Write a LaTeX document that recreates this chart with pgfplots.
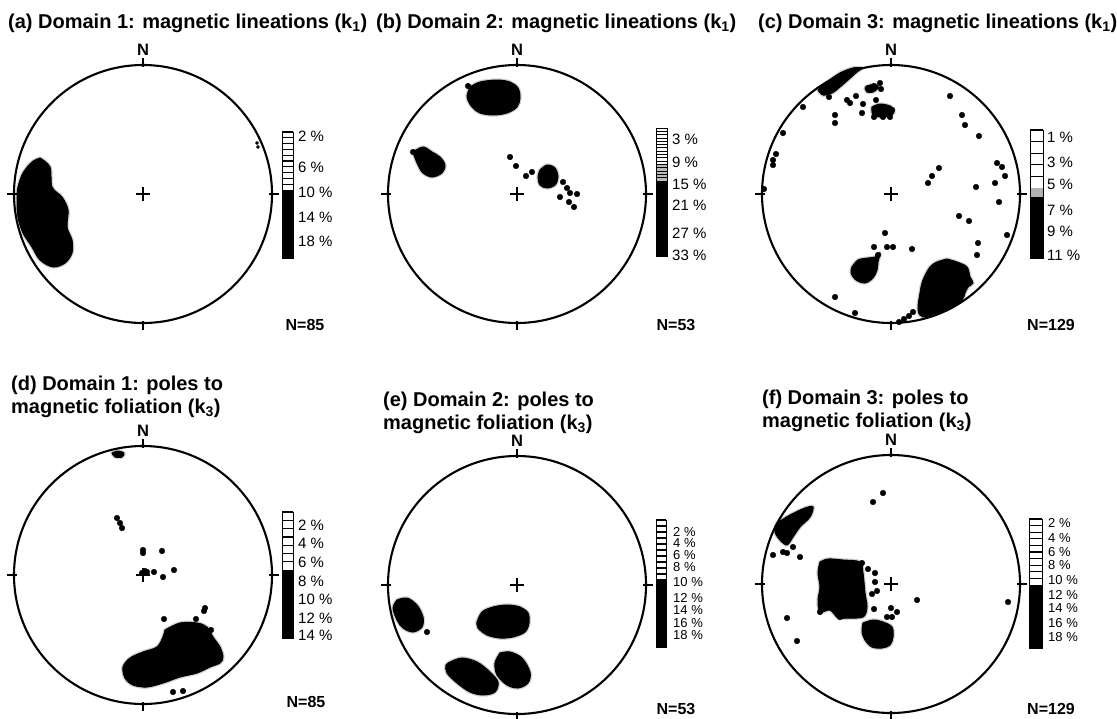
\documentclass[border=0pt]{standalone}
\usepackage{fontspec}
\setmainfont{Liberation Sans}
\usepackage{pgfplots}
\pgfplotsset{compat=1.18}
\newcommand\tfont{\bfseries\fontsize{20}{23}\selectfont}
\newcommand\nfont{\bfseries\fontsize{16}{16}\selectfont}
\newcommand\lfont{\fontsize{15}{15}\selectfont}
\newcommand\sfont{\fontsize{13}{13}\selectfont}
\newcommand\netframe[2]{%
  \draw[line width=2.1pt] (#1,#2) circle[radius=129pt];
  \draw[line width=1.8pt] (#1,#2-129-7) -- (#1,#2-129+2);
  \draw[line width=1.8pt] (#1,#2+129-2) -- (#1,#2+129+7);
  \draw[line width=1.8pt] (#1-129-7,#2) -- (#1-129+3,#2);
  \draw[line width=1.8pt] (#1+129-3,#2) -- (#1+129+7,#2);
  \draw[line width=2.3pt] (#1-7,#2) -- (#1+7,#2) (#1,#2-7) -- (#1,#2+7);
  \node[font=\bfseries\fontsize{16.5}{16.5}\selectfont] at (#1,#2-129-15) {N};
}
\pgfplotsset{
  stereo/.style={scale only axis, width=258pt, height=258pt, axis lines=none,
    ticks=none, clip=false, y dir=reverse, anchor=center},
  blob/.style={fill=black, draw=black, line width=1pt, line join=round, smooth, tension=0.55,
    preaction={draw=gray!35, line width=3.5pt}},
  dots/.style={only marks, mark=*, mark size=2.8pt, black, mark options={fill=black}},
}
\begin{document}
\begin{tikzpicture}
\path[use as bounding box] (0,0) rectangle (1117pt,-718pt);

% (a)
\begin{axis}[stereo, at={(143pt,-194pt)}, xmin=14, xmax=272, ymin=65, ymax=323]
\addplot[blob] coordinates {(40,158) (50,167) (52,187) (62,197) (68,210) (67,227) (72,240) (72,253) (65,263) (53,267) (40,260) (32,247) (23,233) (18,217) (17,200) (18,187) (23,173) (32,162) (40,158)} -- cycle;
\addplot[dots, mark size=1.6pt] coordinates {(257,143) (258,147)};
\end{axis}

% (b)
\begin{axis}[stereo, at={(517pt,-194pt)}, xmin=388, xmax=646, ymin=65, ymax=323]
\addplot[blob] coordinates {(470,87) (480,82) (497,80) (510,82) (518,88) (520,98) (517,107) (507,113) (493,115) (480,113) (472,107) (467,97) (470,87)} -- cycle;
\addplot[blob] coordinates {(413,152) (423,147) (432,152) (440,157) (445,165) (442,173) (432,177) (423,173) (418,165) (415,158) (413,152)} -- cycle;
\addplot[blob] coordinates {(540,170) (547,165) (555,168) (558,177) (555,185) (547,188) (540,185) (538,177) (540,170)} -- cycle;
\addplot[dots] coordinates {(468,86) (413,152) (510,157) (516,166) (526,176) (532,172) (563,182) (567,188) (570,193) (577,194) (560,197) (569,202) (574,207)};
\end{axis}

% (c)
\begin{axis}[stereo, at={(891pt,-194pt)}, xmin=762, xmax=1020, ymin=65, ymax=323]
\addplot[blob] coordinates {(818,90) (827,82) (840,73) (853,68) (862,68) (857,72) (848,80) (840,87) (832,93) (823,95) (818,90)} -- cycle;
\addplot[blob] coordinates {(865,88) (870,85) (877,85) (878,88) (873,92) (867,92) (865,88)} -- cycle;
\addplot[blob] coordinates {(872,107) (880,104) (890,106) (894,110) (892,115) (882,117) (873,115) (872,107)} -- cycle;
\addplot[blob] coordinates {(852,267) (858,260) (868,258) (875,257) (880,253) (878,262) (877,270) (873,278) (865,283) (856,280) (851,273) (852,267)} -- cycle;
\addplot[blob] coordinates {(947,259) (957,262) (967,267) (970,277) (973,283) (968,287) (965,293) (962,300) (950,308) (937,313) (923,317) (918,310) (920,293) (923,280) (930,267) (937,262) (947,259)} -- cycle;
\addplot[dots] coordinates {(868,88) (874,86) (880,83) (881,89) (856,96) (847,100) (850,103) (863,104) (876,100) (878,108) (887,108) (892,110) (874,117) (883,117) (890,117) (862,113) (835,115) (835,123) (829,97)
 (950,96) (962,115) (965,125) (979,136) (997,163) (1002,167) (1005,176) (995,183) (976,187) (999,202) (939,168) (932,176) (928,183) (959,216) (969,221) (978,243) (977,255) (1007,235)
 (885,233) (912,249) (874,247) (887,247) (893,247) (878,255)
 (783,133) (776,154) (773,160) (773,165) (803,107) (764,189) (835,297) (855,313) (899,322) (904,319) (909,316) (913,312)};
\end{axis}

% (d)
\begin{axis}[stereo, at={(143pt,-575pt)}, xmin=14, xmax=272, ymin=446, ymax=704]
\addplot[blob] coordinates {(112,453) (118,451) (124,453) (122,457) (115,457) (112,453)} -- cycle;
\addplot[blob] coordinates {(165,630) (180,623) (197,623) (207,627) (213,637) (220,647) (223,657) (220,663) (210,667) (197,673) (180,677) (163,683) (147,687) (133,685) (125,678) (123,667) (130,658) (143,652) (157,647) (163,637) (165,630)} -- cycle;
\addplot[dots] coordinates {(117,518) (120,523) (122,528) (143,550) (143,553) (162,551) (145,571) (142,573) (147,572) (154,572) (163,577) (174,570) (205,608) (204,611) (164,619) (196,619) (211,630) (173,692) (183,691)};
\end{axis}

% (e)
\begin{axis}[stereo, at={(517pt,-585pt)}, xmin=388, xmax=646, ymin=456, ymax=714]
\addplot[blob] coordinates {(397,600) (407,598) (417,605) (423,617) (422,627) (413,632) (403,628) (397,620) (393,608) (397,600)} -- cycle;
\addplot[blob] coordinates {(477,622) (482,612) (493,607) (507,605) (520,607) (528,613) (529,623) (525,632) (513,637) (500,638) (487,635) (478,628) (477,622)} -- cycle;
\addplot[blob] coordinates {(450,662) (462,658) (477,662) (490,672) (498,682) (495,692) (483,695) (470,692) (457,683) (447,673) (446,665) (450,662)} -- cycle;
\addplot[blob] coordinates {(500,653) (510,652) (522,658) (530,672) (528,683) (518,688) (507,685) (497,675) (495,663) (500,653)} -- cycle;
\addplot[dots] coordinates {(427,632)};
\end{axis}

% (f)
\begin{axis}[stereo, at={(891pt,-584pt)}, xmin=762, xmax=1020, ymin=455, ymax=713]
\addplot[blob] coordinates {(777,523) (790,515) (805,508) (813,507) (810,517) (800,527) (793,537) (787,545) (780,540) (775,532) (777,523)} -- cycle;
\addplot[blob] coordinates {(820,562) (828,559) (843,560) (860,562) (863,573) (865,593) (867,607) (863,617) (847,618) (838,618) (830,610) (820,612) (818,600) (820,587) (818,573) (820,562)} -- cycle;
\addplot[blob] coordinates {(863,623) (873,620) (883,622) (892,627) (893,637) (890,645) (882,648) (872,647) (865,640) (862,632) (863,623)} -- cycle;
\addplot[dots] coordinates {(783,552) (787,553) (793,547) (773,555) (800,557) (873,502) (883,493)
 (862,563) (868,569) (875,573) (875,582) (877,591) (872,594) (874,609) (891,608) (897,612) (887,617) (892,617) (887,627) (917,600) (1008,602) (787,618) (797,641) (820,612) (840,617)};
\end{axis}

\begin{scope}[x=1pt, y=-1pt]
\netframe{143}{194}
\netframe{517}{194}
\netframe{891}{194}
\netframe{143}{575}
\netframe{517}{585}
\netframe{891}{584}

% titles
\node[anchor=base west, font=\tfont, inner sep=0pt] at (8,28) {(a) Domain 1: magnetic lineations (k\textsubscript{1})};
\node[anchor=base west, font=\tfont, inner sep=0pt] at (376,28) {(b) Domain 2: magnetic lineations (k\textsubscript{1})};
\node[anchor=base west, font=\tfont, inner sep=0pt] at (758,28) {(c) Domain 3: magnetic lineations (k\textsubscript{1})};
\node[anchor=base west, font=\tfont, inner sep=0pt] at (11,390) {(d) Domain 1: poles to};
\node[anchor=base west, font=\tfont, inner sep=0pt] at (11,413) {magnetic foliation (k\textsubscript{3})};
\node[anchor=base west, font=\tfont, inner sep=0pt] at (383,406) {(e) Domain 2: poles to};
\node[anchor=base west, font=\tfont, inner sep=0pt] at (383,429) {magnetic foliation (k\textsubscript{3})};
\node[anchor=base west, font=\tfont, inner sep=0pt] at (762,404) {(f) Domain 3: poles to};
\node[anchor=base west, font=\tfont, inner sep=0pt] at (762,427) {magnetic foliation (k\textsubscript{3})};

% N= labels
\node[font=\nfont] at (305,325) {N=85};
\node[font=\nfont] at (676,325) {N=53};
\node[font=\nfont] at (1051,325) {N=129};
\node[font=\nfont] at (306,702) {N=85};
\node[font=\nfont] at (676,709) {N=53};
\node[font=\nfont] at (1051,709) {N=129};

% colour bars
% (a)
\fill (282,190) rectangle (293,258);
\foreach \y in {132,137.8,...,190} \draw[line width=1.2pt] (282,\y) -- (293,\y);
\draw[line width=1pt] (282,132) rectangle (293,258);
\foreach \t/\y in {2/136,6/167.5,10/192.5,14/217.5,18/241.5} \node[anchor=west, font=\lfont, inner sep=0pt] at (298,\y) {\t\ \%};
% (b)
\fill[gray!55] (656,165) rectangle (667,181);
\fill (656,181) rectangle (667,256);
\foreach \y in {128,131.3,...,178} \draw[line width=0.8pt] (656,\y) -- (667,\y);
\draw[line width=1pt] (656,128) rectangle (667,256);
\foreach \t/\y in {3/139,9/162,15/184,21/205,27/233,33/255} \node[anchor=west, font=\lfont, inner sep=0pt] at (672,\y) {\t\ \%};
% (c)
\fill[gray!60] (1030,188) rectangle (1043,197);
\fill (1030,197) rectangle (1043,258);
\foreach \y in {130,141.6,...,188} \draw[line width=1.2pt] (1030,\y) -- (1043,\y);
\draw[line width=1pt] (1030,130) rectangle (1043,258);
\foreach \t/\y in {1/137,3/162,5/184,7/210,9/231,11/255} \node[anchor=west, font=\lfont, inner sep=0pt] at (1047,\y) {\t\ \%};
% (d)
\fill (282,570) rectangle (293,638);
\foreach \y in {512,520.3,...,570} \draw[line width=1.2pt] (282,\y) -- (293,\y);
\draw[line width=1pt] (282,512) rectangle (293,638);
\foreach \t/\y in {2/525,4/543,6/562,8/581,10/599,12/618,14/635} \node[anchor=west, font=\lfont, inner sep=0pt] at (298,\y) {\t\ \%};
% (e)
\fill (656,580) rectangle (666,647);
\foreach \y in {520,526,...,580} \draw[line width=1.2pt] (656,\y) -- (666,\y);
\draw[line width=1pt] (656,520) rectangle (666,647);
\foreach \t/\y in {2/532,4/543.5,6/555,8/567,10/582,12/597.5,14/610,16/623,18/635.5} \node[anchor=west, font=\sfont, inner sep=0pt] at (673,\y) {\t\ \%};
% (f)
\fill (1029,585) rectangle (1042,648);
\foreach \y in {519,525.6,...,585} \draw[line width=1.2pt] (1029,\y) -- (1042,\y);
\draw[line width=1pt] (1029,519) rectangle (1042,648);
\foreach \t/\y in {2/523,4/538,6/552,8/565,10/580,12/595,14/608.5,16/623,18/637} \node[anchor=west, font=\sfont, inner sep=0pt] at (1048,\y) {\t\ \%};
\end{scope}
\end{tikzpicture}
\end{document}
